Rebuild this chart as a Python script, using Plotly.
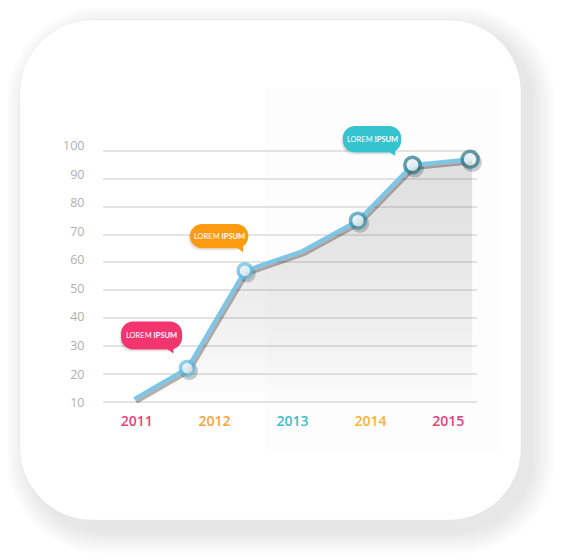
import plotly.graph_objects as go

# ---------------- data ----------------
years = [2011, 2012, 2013, 2014, 2015]
year_colors = ["#e4437a", "#f4a43a", "#3fbdcc", "#f9b431", "#df4478"]
y_ticks = [10, 20, 30, 40, 50, 60, 70, 80, 90, 100]
point_x = [2010.97, 2011.65, 2012.39, 2013.12, 2013.84, 2014.54, 2015.28]
point_y = [11, 22, 57, 64, 75, 95, 97]
marker_idx = [1, 2, 4, 5, 6]
marker_colors = ["#5dbde2", "#5dbde2", "#3893ae", "#26788a", "#26788a"]
marker_sizes = [14, 14, 15, 15.5, 16]
bubble_points = [1, 2, 5]
bubble_colors = ["#f2346f", "#fd9b10", "#34c3cf"]
bubble_label = "LOREM <b>IPSUM</b>"

# ---------------- layout geometry ----------------
OFF = 8                      # page body margin of the browser
W, H = 562 - OFF, 560 - OFF
L, R, T, B = 95, 85, 102, 157
PW = W - L - R
PH = H - T - B

X_RANGE = [2010.5674, 2015.3684]
Y_DATA = [9.533, 114.716]
Y_LABEL = [9.895, 112.50]
px_per_year = PW / (X_RANGE[1] - X_RANGE[0])
px_per_unit = PH / (Y_DATA[1] - Y_DATA[0])
SH_DX, SH_DY = 2, 3
X_SHADOW = [X_RANGE[0] - SH_DX / px_per_year, X_RANGE[1] - SH_DX / px_per_year]
Y_SHADOW = [Y_DATA[0] + SH_DY / px_per_unit, Y_DATA[1] + SH_DY / px_per_unit]

K = 0.5523


def to_paper(x, y):
    # window pixel -> paper fraction
    return ((x - OFF - L) / PW, (H - B - (y - OFF)) / PH)


def rel_pixel(x, y):
    return (x, -y)


def fmt(p):
    return f"{p[0]:.5f},{p[1]:.5f}"


def rrect_path(x0, y0, x1, y1, r, conv):
    c = lambda x, y: fmt(conv(x, y))
    k = K * r
    return (
        f"M{c(x0 + r, y0)} L{c(x1 - r, y0)} "
        f"C{c(x1 - r + k, y0)} {c(x1, y0 + r - k)} {c(x1, y0 + r)} "
        f"L{c(x1, y1 - r)} "
        f"C{c(x1, y1 - r + k)} {c(x1 - r + k, y1)} {c(x1 - r, y1)} "
        f"L{c(x0 + r, y1)} "
        f"C{c(x0 + r - k, y1)} {c(x0, y1 - r + k)} {c(x0, y1 - r)} "
        f"L{c(x0, y0 + r)} "
        f"C{c(x0, y0 + r - k)} {c(x0 + r - k, y0)} {c(x0 + r, y0)} Z"
    )


def tri_path(pts, conv):
    return "M" + " L".join(fmt(conv(*p)) for p in pts) + " Z"


shapes = []
# card shadow layers
CX0, CY0, CX1, CY1, CR = 20, 20, 521, 520, 72
for i in range(1, 13):
    e = i * 2.0
    shapes.append(dict(
        type="path", xref="paper", yref="paper", layer="below",
        path=rrect_path(CX0 + 10 - e, CY0 + 10 - e, CX1 + 10 + e, CY1 + 10 + e, CR + e, to_paper),
        fillcolor="rgba(0,0,0,0.007)", line=dict(width=0)))
# card
shapes.append(dict(
    type="path", xref="paper", yref="paper", layer="below",
    path=rrect_path(CX0, CY0, CX1, CY1, CR, to_paper),
    fillcolor="#ffffff", line=dict(color="rgba(0,0,0,0.035)", width=1)))
# faint panel
p0 = to_paper(265, 88)
p1 = to_paper(502, 453)
shapes.append(dict(type="rect", xref="paper", yref="paper", layer="below",
                   x0=p0[0], y0=p1[1], x1=p1[0], y1=p0[1],
                   fillcolor="#fdfdfd", line=dict(width=0)))

# bubble geometry relative to the anchored point (screen px, y down)
bubble_geom = [
    dict(x0=-66.3, x1=-5.3, y0=-46.7, y1=-18.7, tip=(-14.0, -14.7)),
    dict(x0=-55.0, x1=3.3, y0=-46.7, y1=-22.4, tip=(-2.0, -18.4)),
    dict(x0=-69.6, x1=-11.3, y0=-39.0, y1=-12.3, tip=(-17.3, -9.0)),
]
annotations = []
for pi, col, g in zip(bubble_points, bubble_colors, bubble_geom):
    ax, ay = point_x[pi], point_y[pi]
    r = min(12, (g["y1"] - g["y0"]) / 2)
    base = dict(type="path", xref="x2", yref="y2", xsizemode="pixel", ysizemode="pixel",
                xanchor=ax, yanchor=ay, line=dict(width=0))
    sh = lambda x, y: (x - 1.5, -(y + 2))
    shapes.append(dict(base, path=rrect_path(g["x0"], g["y0"], g["x1"], g["y1"], r, sh),
                       fillcolor="rgba(0,0,0,0.10)"))
    tx, ty = g["tip"]
    tail = [(tx, g["y1"] - 4), (tx, ty), (tx - 6, g["y1"] - 0.5)]
    shapes.append(dict(base, path=rrect_path(g["x0"], g["y0"], g["x1"], g["y1"], r, rel_pixel),
                       fillcolor=col))
    shapes.append(dict(base, path=tri_path(tail, rel_pixel), fillcolor=col))
    annotations.append(dict(
        x=ax, y=ay, xref="x2", yref="y2", showarrow=False,
        xshift=(g["x0"] + g["x1"]) / 2, yshift=-(g["y0"] + g["y1"]) / 2,
        text=bubble_label, font=dict(family="Lato", size=7.5, color="#ffffff"),
        xanchor="center", yanchor="middle"))

mx = [point_x[i] for i in marker_idx]
my = [point_y[i] for i in marker_idx]

fig = go.Figure()
# area fill + shadow -- main (bottom) subplot x/y, shifted ranges
fig.add_trace(go.Scatter(
    x=point_x, y=point_y, mode="lines",
    line=dict(width=0), fill="tozeroy",
    fillgradient=dict(type="vertical",
                      colorscale=[[0, "rgba(0,0,0,0)"], [0.3, "rgba(0,0,0,0.055)"],
                                  [0.7, "rgba(0,0,0,0.10)"], [1, "rgba(0,0,0,0.12)"]],
                      start=10, stop=100),
    hoverinfo="skip", showlegend=False))
fig.add_trace(go.Scatter(
    x=point_x, y=point_y, mode="lines",
    line=dict(color="rgba(0,0,0,0.30)", width=4), hoverinfo="skip", showlegend=False))
fig.add_trace(go.Scatter(
    x=mx, y=my, mode="markers",
    marker=dict(size=[s + 3.5 for s in marker_sizes], color="rgba(0,0,0,0.28)", line=dict(width=0)),
    hoverinfo="skip", showlegend=False, cliponaxis=False))
# main line -- data axes x2/y2 (overlay)
fig.add_trace(go.Scatter(
    x=point_x, y=point_y, xaxis="x2", yaxis="y2", mode="lines",
    line=dict(color="#7cc7e8", width=4), showlegend=False))
fig.add_trace(go.Scatter(
    x=mx, y=my, xaxis="x2", yaxis="y2", mode="markers",
    marker=dict(size=marker_sizes, color="#ffffff", line=dict(color=marker_colors, width=3.5)),
    showlegend=False, cliponaxis=False))
# invisible trace so the y-label axis (y3) is drawn
fig.add_trace(go.Scatter(x=[years[0]], y=[y_ticks[0]], xaxis="x2", yaxis="y3", mode="markers",
                         marker=dict(opacity=0), hoverinfo="skip", showlegend=False))

fig.update_layout(
    width=W, height=H,
    margin=dict(l=L, r=R, t=T, b=B, pad=0),
    paper_bgcolor="#ffffff", plot_bgcolor="rgba(0,0,0,0)",
    showlegend=False,
    xaxis=dict(range=X_SHADOW, showgrid=False, zeroline=False, showline=False,
               showticklabels=False, ticks="", fixedrange=True),
    yaxis=dict(range=Y_SHADOW, showgrid=False, zeroline=False, showline=False,
               showticklabels=False, ticks="", fixedrange=True),
    xaxis2=dict(range=X_RANGE, overlaying="x", anchor="y", tickvals=years,
                ticktext=[f'<span style="color:{c}">{y}</span>' for y, c in zip(years, year_colors)],
                tickfont=dict(family="Open Sans", size=14, weight=600),
                showgrid=False, zeroline=False, showline=False, side="bottom",
                ticks="outside", ticklen=5, tickcolor="rgba(0,0,0,0)", fixedrange=True),
    yaxis2=dict(range=Y_DATA, overlaying="y", anchor="x", tickvals=y_ticks,
                showgrid=True, gridcolor="#e3e3e3", gridwidth=1.8,
                showticklabels=False, zeroline=False, showline=False, ticks=""),
    yaxis3=dict(range=Y_LABEL, overlaying="y", anchor="x", tickvals=y_ticks, side="left",
                tickfont=dict(family="Open Sans", size=12.5, color="#b0b0b0"),
                showgrid=False, zeroline=False, showline=False,
                ticks="outside", ticklen=15, tickcolor="rgba(0,0,0,0)", fixedrange=True),
    shapes=shapes,
    annotations=annotations,
)

fig.write_html("out.html")
